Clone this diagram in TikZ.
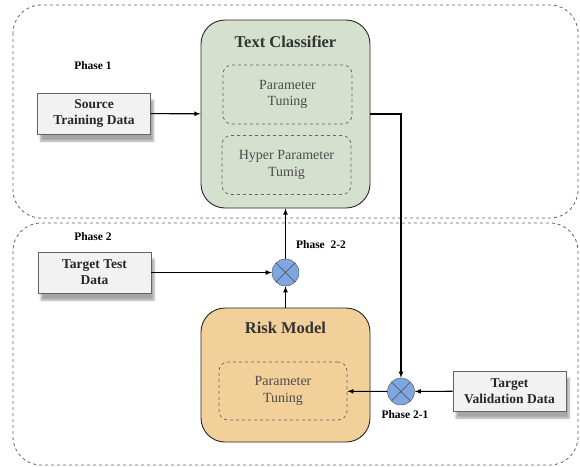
\documentclass[tikz,border=0pt]{standalone}
\usepackage{fontspec}
\setmainfont{Liberation Serif}
\usetikzlibrary{arrows,shapes,shadows.blur}

\definecolor{clfgreen}{RGB}{214,224,206}
\definecolor{riskorange}{RGB}{242,208,154}
\definecolor{mixblue}{RGB}{126,166,224}
\definecolor{boxgray}{RGB}{242,242,242}
\definecolor{linegray}{RGB}{100,100,100}

\begin{document}
\begin{tikzpicture}[x=1pt, y=-1pt,
    model/.style={draw=black!85, line width=0.9, rounded corners=24,
      minimum width=169, minimum height=#1},
    tuning/.style={draw=linegray, dashed, line width=0.7, rounded corners=9,
      minimum width=129, minimum height=59, align=center, text=black!70,
      font=\fontsize{14}{16.5}\selectfont},
    databox/.style={draw=linegray, line width=0.7, fill=boxgray, minimum width=113,
      minimum height=41, align=center, font=\bfseries\fontsize{13.5}{16}\selectfont,
      text=black!85,
      blur shadow={shadow xshift=3pt, shadow yshift=-7pt, shadow opacity=35,
      shadow blur steps=6}},
    mixer/.style={circle, draw=black!70, fill=mixblue, minimum size=27, inner sep=0,
      path picture={\draw[black!70] (path picture bounding box.north west) --
      (path picture bounding box.south east) (path picture bounding box.north east) --
      (path picture bounding box.south west);}},
    phase/.style={font=\bfseries\fontsize{11.5}{13}\selectfont},
    flow/.style={-latex, line width=1.1}]
  \useasboundingbox (0,0) rectangle (580,466);
  % the two phases
  \draw [linegray, dashed, line width=0.8, rounded corners=28] (13,5) rectangle (578,218);
  \draw [linegray, dashed, line width=0.8, rounded corners=28] (13,223) rectangle (578,465);
  \node [phase] (ph1) at (93,66) {Phase 1};
  \node [phase] (ph2) at (93,237) {Phase 2};

  % text classifier
  \node [model=188, fill=clfgreen] (clf) at (285.5,114) {};
  \node [font=\bfseries\fontsize{16.5}{19}\selectfont, text=black!80] (clftitle) at (285.5,42) {Text Classifier};
  \node [tuning] (clfpt) at (287.5,94.5) {Parameter\\Tuning};
  \node [tuning] (clfhp) at (286.5,165) {Hyper Parameter\\Tumig};

  % risk model
  \node [model=134, fill=riskorange] (risk) at (285.5,375) {};
  \node [font=\bfseries\fontsize{16.5}{19}\selectfont, text=black!80] (risktitle) at (285.5,328) {Risk Model};
  \node [tuning, minimum width=128, minimum height=58] (riskpt) at (283,391) {Parameter\\Tuning};

  % data
  \node [databox] (src) at (94,113.5) {Source\\Training Data};
  \node [databox] (ttd) at (94.5,272.5) {Target Test\\Data};
  \node [databox, minimum height=40] (tvd) at (509.5,391) {Target\\Validation Data};

  % mixers
  \node [mixer] (mix22) at (285.5,272.5) {};
  \node [mixer] (mix21) at (401,391.5) {};
  \node [phase] (ph22) at (321,245) {Phase~~2-2};
  \node [phase] (ph21) at (405,415) {Phase 2-1};

  \draw [flow] (src) -- (clf);
  \draw [flow] (clf.east) -| (mix21);
  \draw [flow] (tvd) -- (mix21);
  \draw [flow] (mix21) -- (riskpt);
  \draw [flow] (risk) -- (mix22);
  \draw [flow] (ttd) -- (mix22);
  \draw [flow] (mix22) -- (clf);
\end{tikzpicture}
\end{document}
